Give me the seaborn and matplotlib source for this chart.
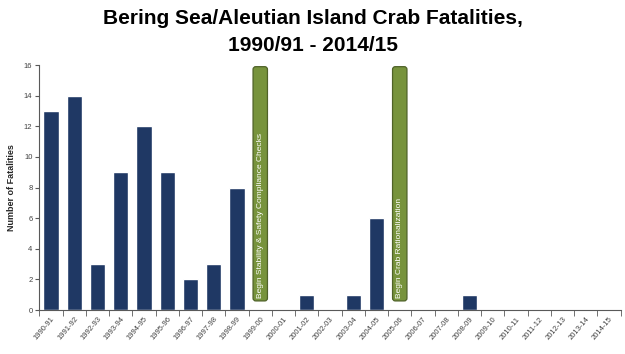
import numpy as np
import matplotlib
matplotlib.use("Agg")
import matplotlib.pyplot as plt
from matplotlib.patches import FancyBboxPatch
import seaborn as sns

# Crab seasons and fatalities
seasons = ["1990-91", "1991-92", "1992-93", "1993-94", "1994-95", "1995-96",
           "1996-97", "1997-98", "1998-99", "1999-00", "2000-01", "2001-02",
           "2002-03", "2003-04", "2004-05", "2005-06", "2006-07", "2007-08",
           "2008-09", "2009-10", "2010-11", "2011-12", "2012-13", "2013-14",
           "2014-15"]
fatalities = [13, 14, 3, 9, 12, 9, 2, 3, 8, 0, 0, 1, 0, 1, 6, 0, 0, 0, 1,
              0, 0, 0, 0, 0, 0]

# Policy markers (green bars)
event_seasons = ["1999-00", "2005-06"]
event_labels = ["Begin Stability & Safety Compliance Checks",
                "Begin Crab Rationalization"]
event_bottom = [0.6, 0.6]
event_top = [15.9, 15.9]

sns.set_style("white")
plt.rcParams['font.family'] = ['Liberation Sans', 'DejaVu Sans']

fig = plt.figure(figsize=(6.25, 3.54), dpi=100)
ax = fig.add_axes([0.063, 0.124, 0.93, 0.692])

sns.barplot(x=seasons, y=fatalities, color="#1f3864", saturation=1,
            width=0.65, ax=ax)

n = len(seasons)
ax.set_xlim(-0.5, n - 0.5)
ax.set_ylim(0, 16)

# green event markers, drawn as bars then given rounded corners
for s, lab, b, t in zip(event_seasons, event_labels, event_bottom, event_top):
    i = seasons.index(s)
    bars = ax.bar(i, t - b, bottom=b, width=0.62)
    for p in bars:
        x0, y0, w, h = p.get_x(), p.get_y(), p.get_width(), p.get_height()
        p.remove()
        rb = FancyBboxPatch((x0, y0), w, h,
                            boxstyle="round,pad=0,rounding_size=0.12",
                            mutation_aspect=16 / 245 * 23.2,
                            facecolor="#77933c", edgecolor="#4f6228",
                            linewidth=0.9, zorder=3)
        ax.add_patch(rb)
    ax.text(i, b + 0.2, lab, rotation=90, ha="center", va="bottom",
            color="white", fontsize=6, zorder=4)

ax.set_yticks(np.arange(0, 17, 2))
ax.tick_params(axis="y", labelsize=5.5, length=3, color="#595959",
               labelcolor="#404040", left=True, pad=2)

# labels at category centres, tick marks at category boundaries
ax.set_xticks(range(n))
ax.set_xticklabels(seasons, rotation=50, ha="right", rotation_mode="anchor",
                   fontsize=5.5, color="#404040")
ax.tick_params(axis="x", which="major", length=0, pad=4)
ax.set_xticks(np.arange(-0.5, n, 1), minor=True)
ax.tick_params(axis="x", which="minor", length=4, color="#595959",
               bottom=True)

for side in ["top", "right"]:
    ax.spines[side].set_visible(False)
for side in ["left", "bottom"]:
    ax.spines[side].set_color("#595959")
    ax.spines[side].set_linewidth(0.8)

ax.set_ylabel("Number of Fatalities", fontsize=6.5, weight="bold", labelpad=6)
ax.set_xlabel("")

fig.suptitle("Bering Sea/Aleutian Island Crab Fatalities,\n1990/91 - 2014/15",
             fontsize=15, weight="bold", y=0.975, linespacing=1.55,
             color="black")

fig.savefig("out.png", dpi=100)
